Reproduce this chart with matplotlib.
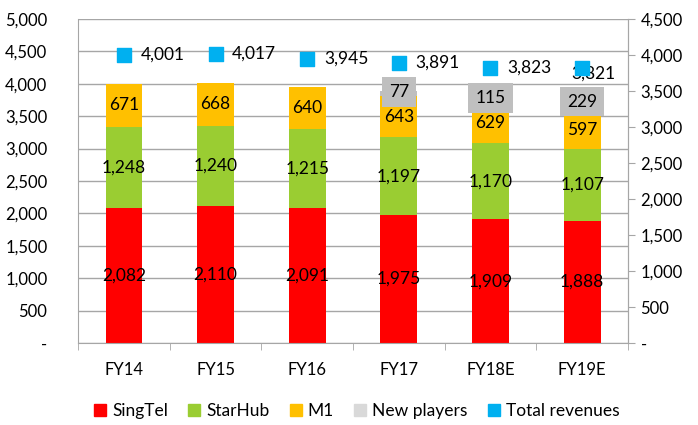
import matplotlib
matplotlib.use("Agg")
import matplotlib.pyplot as plt
import numpy as np

plt.rcParams['font.family'] = ['Lato', 'DejaVu Sans']

years = ['FY14', 'FY15', 'FY16', 'FY17', 'FY18E', 'FY19E']
singtel = [2082, 2110, 2091, 1975, 1909, 1888]
starhub = [1248, 1240, 1215, 1197, 1170, 1107]
m1 = [671, 668, 640, 643, 629, 597]
new_players = [0, 0, 0, 77, 115, 229]
total = [4001, 4017, 3945, 3891, 3823, 3821]

x = np.arange(len(years))
w = 0.4

fig = plt.figure(figsize=(6.98, 4.25), dpi=100)
ax = fig.add_axes([78 / 698, 1 - 343 / 425, 550 / 698, 324 / 425])
ax2 = ax.twinx()

grid_c = '#a6a6a6'
ax.set_axisbelow(True)
ax.yaxis.grid(True, color=grid_c, lw=1)

series = [('SingTel', singtel, '#ff0000'),
          ('StarHub', starhub, '#9acd32'),
          ('M1', m1, '#ffc000'),
          ('New players', new_players, '#bfbfbf')]
bottom = np.zeros(len(years))
handles = []
for name, vals, col in series:
    vals = np.array(vals, dtype=float)
    ax.bar(x, vals, w, bottom=bottom, color=col, label=name)
    for xi, v, bo in zip(x, vals, bottom):
        if v <= 0:
            continue
        if name == 'New players':
            ax.text(xi, bo + v / 2 + 20, f'{int(v):,}', ha='center', va='center', fontsize=12.5,
                    bbox=dict(boxstyle='square,pad=0.4', fc='#bfbfbf', ec='none'))
        else:
            ax.text(xi, bo + v / 2, f'{int(v):,}', ha='center', va='center', fontsize=12.5)
    bottom += vals
    handles.append(plt.Rectangle((0, 0), 1, 1, color=col if name != 'New players' else '#d9d9d9'))

ax2.scatter(x, total, marker='s', s=110, color='#00b0f0', zorder=5)
for i, (xi, t) in enumerate(zip(x, total)):
    if i == len(x) - 1:
        ax2.annotate(f'{t:,}', (xi, t), xytext=(8, -4), textcoords='offset points',
                     ha='center', va='center', fontsize=12.5)
    else:
        ax2.annotate(f'{t:,}', (xi, t), xytext=(12, 0), textcoords='offset points',
                     ha='left', va='center', fontsize=12.5)
handles.append(plt.Rectangle((0, 0), 1, 1, color='#00b0f0'))

def fmt(v, p):
    return '-' if v == 0 else f'{int(v):,}'

ax.set_ylim(0, 5000)
ax.set_yticks(np.arange(0, 5001, 500))
ax.yaxis.set_major_formatter(plt.FuncFormatter(fmt))
ax2.set_ylim(0, 4500)
ax2.set_yticks(np.arange(0, 4501, 500))
ax2.yaxis.set_major_formatter(plt.FuncFormatter(fmt))

ax.set_xlim(-0.5, len(years) - 0.5)
ax.set_xticks(x)
ax.set_xticklabels(years)
ax.set_xticks(np.arange(-0.5, len(years)), minor=True)
ax.tick_params(axis='x', which='major', length=0, pad=14, labelsize=12)
ax.tick_params(axis='x', which='minor', length=5, color=grid_c)
ax.tick_params(axis='y', length=0, pad=22, labelsize=12)
ax2.tick_params(axis='y', length=5, color=grid_c, pad=4, labelsize=12)

for a in (ax, ax2):
    for s in a.spines.values():
        s.set_color(grid_c)
    a.spines['top'].set_visible(False)
ax2.spines['left'].set_visible(False)
ax2.spines['bottom'].set_visible(False)

fig.legend(handles, ['SingTel', 'StarHub', 'M1', 'New players', 'Total revenues'],
           loc='center', bbox_to_anchor=(0.511, 1 - 411 / 425), ncol=5, frameon=False,
           fontsize=12.5, handlelength=0.7, handleheight=0.7, handletextpad=0.35,
           columnspacing=1.15)

fig.savefig('out.png', dpi=100)
